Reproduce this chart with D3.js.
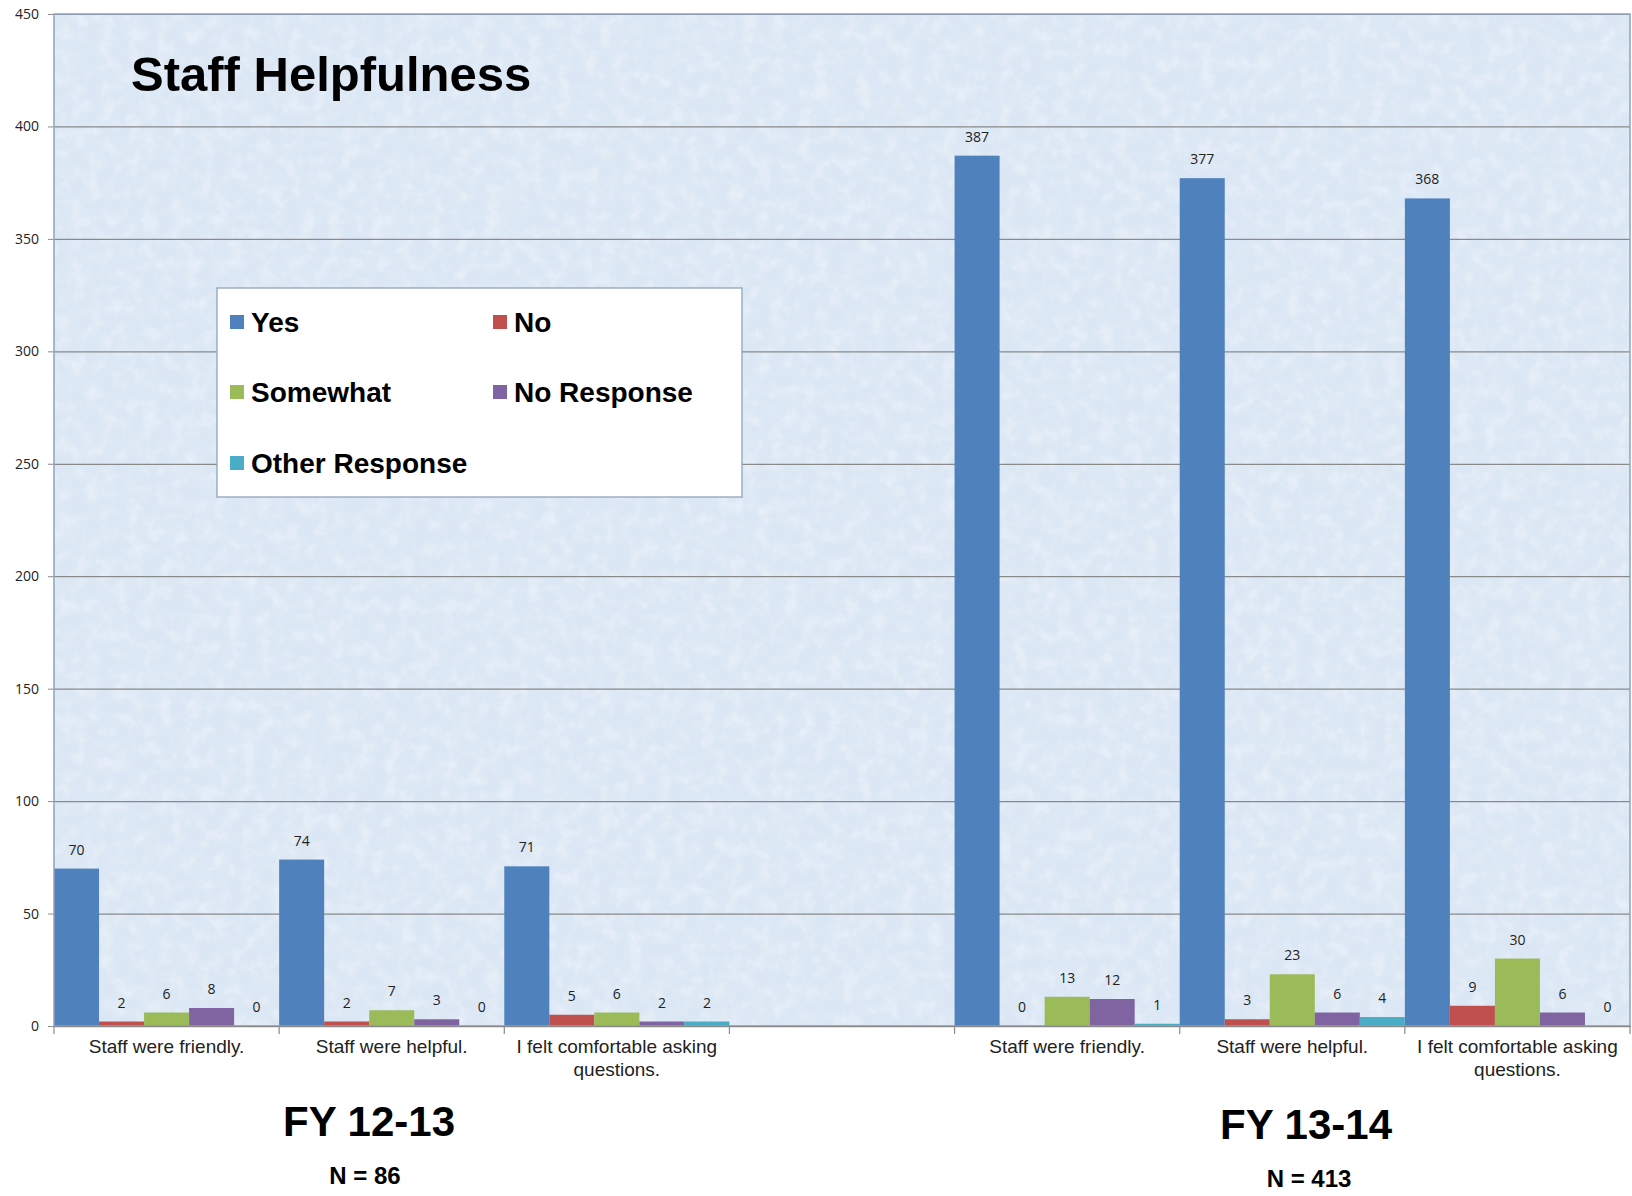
<!DOCTYPE html>
<html>
<head>
<meta charset="utf-8">
<script src="https://cdn.jsdelivr.net/npm/d3@7"></script>
<style>
  html, body { margin: 0; padding: 0; background: #ffffff; }
  svg { display: block; }
</style>
</head>
<body>
<svg id="chart" width="1632" height="1196"></svg>
<script>
// ---------- data ----------
const categories = [
  "Staff were friendly.", "Staff were helpful.", "I felt comfortable asking questions.",
  "",
  "Staff were friendly.", "Staff were helpful.", "I felt comfortable asking questions."
];
const seriesNames = ["Yes", "No", "Somewhat", "No Response", "Other Response"];
const yesValues        = [70, 74, 71, null, 387, 377, 368];
const noValues         = [2, 2, 5, null, 0, 3, 9];
const somewhatValues   = [6, 7, 6, null, 13, 23, 30];
const noResponseValues = [8, 3, 2, null, 12, 6, 6];
const otherValues      = [0, 0, 2, null, 1, 4, 0];
const yTicks = [0, 50, 100, 150, 200, 250, 300, 350, 400, 450];
const periodLabels = ["FY 12-13", "FY 13-14"];
const sampleSizes = ["N = 86", "N = 413"];
const titleText = "Staff Helpfulness";

const seriesValues = [yesValues, noValues, somewhatValues, noResponseValues, otherValues];
const colors = ["#4F81BD", "#C0504D", "#9BBB59", "#8064A2", "#4BACC6"];

// ---------- layout ----------
const svg = d3.select("#chart");
const plot = { left: 54, right: 1630, top: 14, bottom: 1026 };

const x = d3.scaleBand()
  .domain(categories.map((d, i) => i))
  .range([plot.left, plot.right])
  .paddingInner(0).paddingOuter(0);
const xs = d3.scaleBand()
  .domain(seriesNames)
  .range([0, x.bandwidth()])
  .padding(0);
const y = d3.scaleLinear().domain([0, 450]).range([plot.bottom, plot.top]);

// background with subtle texture
const defs = svg.append("defs");
const filt = defs.append("filter").attr("id", "tex").attr("x", 0).attr("y", 0).attr("width", "100%").attr("height", "100%");
filt.append("feTurbulence").attr("type", "fractalNoise").attr("baseFrequency", "0.07").attr("numOctaves", 4).attr("seed", 4).attr("result", "noise");
filt.append("feColorMatrix").attr("in", "noise").attr("type", "matrix")
  .attr("values", "0 0 0 0 0.97  0 0 0 0 0.98  0 0 0 0 1  0 0 0 2.6 -1.1");
const filt2 = defs.append("filter").attr("id", "tex2").attr("x", 0).attr("y", 0).attr("width", "100%").attr("height", "100%");
filt2.append("feTurbulence").attr("type", "fractalNoise").attr("baseFrequency", "0.09").attr("numOctaves", 4).attr("seed", 11).attr("result", "noise");
filt2.append("feColorMatrix").attr("in", "noise").attr("type", "matrix")
  .attr("values", "0 0 0 0 0.72  0 0 0 0 0.80  0 0 0 0 0.90  0 0 0 2.6 -1.1");

svg.append("rect")
  .attr("x", plot.left).attr("y", plot.top)
  .attr("width", plot.right - plot.left).attr("height", plot.bottom - plot.top)
  .attr("fill", "#dbe7f4");
svg.append("rect")
  .attr("x", plot.left).attr("y", plot.top)
  .attr("width", plot.right - plot.left).attr("height", plot.bottom - plot.top)
  .attr("filter", "url(#tex)").attr("opacity", 0.35);
svg.append("rect")
  .attr("x", plot.left).attr("y", plot.top)
  .attr("width", plot.right - plot.left).attr("height", plot.bottom - plot.top)
  .attr("filter", "url(#tex2)").attr("opacity", 0.2);

// gridlines
svg.append("g")
  .attr("transform", `translate(${plot.left},0)`)
  .call(d3.axisLeft(y).tickValues(yTicks).tickSize(-(plot.right - plot.left)).tickFormat(""))
  .call(g => g.select(".domain").remove())
  .call(g => g.selectAll("line").attr("stroke", "#8a8a8a").attr("stroke-width", 1.2));

// y axis ticks + labels
svg.append("g")
  .attr("transform", `translate(${plot.left},0)`)
  .call(d3.axisLeft(y).tickValues(yTicks).tickSize(6).tickPadding(9))
  .call(g => g.select(".domain").remove())
  .call(g => g.selectAll("line").attr("stroke", "#8a8a8a"))
  .call(g => g.selectAll("text").attr("font-family", "'Open Sans', 'Noto Sans', sans-serif").attr("font-size", 14).attr("fill", "#222"));

// bars
const flat = [];
seriesValues.forEach((vals, s) => {
  vals.forEach((v, i) => {
    if (v !== null) flat.push({ cat: i, series: seriesNames[s], color: colors[s], value: v });
  });
});
svg.append("g").selectAll("rect").data(flat).join("rect")
  .attr("x", d => x(d.cat) + xs(d.series))
  .attr("width", xs.bandwidth())
  .attr("y", d => y(d.value))
  .attr("height", d => y(0) - y(d.value))
  .attr("fill", d => d.color);

// data labels
svg.append("g").selectAll("text").data(flat).join("text")
  .attr("x", d => x(d.cat) + xs(d.series) + xs.bandwidth() / 2)
  .attr("y", d => y(d.value) - 14)
  .attr("text-anchor", "middle")
  .attr("font-family", "'Open Sans', 'Noto Sans', sans-serif")
  .attr("font-size", 14)
  .attr("fill", "#222")
  .text(d => d.value);

// plot border
svg.append("rect")
  .attr("x", plot.left).attr("y", plot.top)
  .attr("width", plot.right - plot.left).attr("height", plot.bottom - plot.top)
  .attr("fill", "none").attr("stroke", "#8fa3bd").attr("stroke-width", 1.5);

// x axis
const xAxis = svg.append("g")
  .attr("transform", `translate(0,${plot.bottom})`)
  .call(d3.axisBottom(x).tickSize(0).tickFormat(""));
xAxis.select(".domain").attr("stroke", "#8a8a8a").attr("stroke-width", 1.3);
// boundary ticks between categories
const boundaries = d3.range(categories.length + 1).map(i => plot.left + i * x.step());
svg.append("g").selectAll("line").data(boundaries).join("line")
  .attr("x1", d => d).attr("x2", d => d)
  .attr("y1", plot.bottom).attr("y2", plot.bottom + 8)
  .attr("stroke", "#8a8a8a").attr("stroke-width", 1.2);

// category labels with wrapping
const catG = svg.append("g");
categories.forEach((label, i) => {
  if (!label) return;
  const words = label.split(" ");
  const lines = [];
  let cur = "";
  const maxChars = 26;
  words.forEach(w => {
    const t = cur ? cur + " " + w : w;
    if (t.length > maxChars && cur) { lines.push(cur); cur = w; } else { cur = t; }
  });
  if (cur) lines.push(cur);
  const t = catG.append("text")
    .attr("x", x(i) + x.bandwidth() / 2)
    .attr("y", plot.bottom + 27)
    .attr("text-anchor", "middle")
    .attr("font-family", "'Liberation Sans', Arial, sans-serif")
    .attr("font-size", 19)
    .attr("fill", "#222");
  lines.forEach((ln, k) => {
    t.append("tspan").attr("x", x(i) + x.bandwidth() / 2).attr("dy", k === 0 ? 0 : 23).text(ln);
  });
});

// title
svg.append("text")
  .attr("x", 131).attr("y", 91)
  .attr("font-family", "'Liberation Sans', Arial, sans-serif")
  .attr("font-weight", "bold")
  .attr("font-size", 49)
  .attr("fill", "#000")
  .text(titleText);

// legend
const lg = svg.append("g");
lg.append("rect")
  .attr("x", 217).attr("y", 288).attr("width", 525).attr("height", 209)
  .attr("fill", "#ffffff").attr("stroke", "#8fa3bd").attr("stroke-width", 1.3);
const legendPos = [
  { x: 230, y: 322 }, { x: 493, y: 322 },
  { x: 230, y: 392 }, { x: 493, y: 392 },
  { x: 230, y: 463 }
];
seriesNames.forEach((name, i) => {
  const p = legendPos[i];
  lg.append("rect").attr("x", p.x).attr("y", p.y - 7).attr("width", 14).attr("height", 14).attr("fill", colors[i]);
  lg.append("text")
    .attr("x", p.x + 21).attr("y", p.y + 10)
    .attr("font-family", "'Liberation Sans', Arial, sans-serif")
    .attr("font-weight", "bold").attr("font-size", 28).attr("fill", "#000")
    .text(name);
});

// period labels
const periodCenters = [369, 1306];
const nCenters = [365, 1309];
periodLabels.forEach((p, i) => {
  svg.append("text")
    .attr("x", periodCenters[i]).attr("y", i === 0 ? 1136 : 1139)
    .attr("text-anchor", "middle")
    .attr("font-family", "'Liberation Sans', Arial, sans-serif")
    .attr("font-weight", "bold").attr("font-size", 42).attr("fill", "#000")
    .text(p);
  svg.append("text")
    .attr("x", nCenters[i]).attr("y", i === 0 ? 1184 : 1187)
    .attr("text-anchor", "middle")
    .attr("font-family", "'Liberation Sans', Arial, sans-serif")
    .attr("font-weight", "bold").attr("font-size", 24).attr("fill", "#000")
    .text(sampleSizes[i]);
});
</script>
</body>
</html>
